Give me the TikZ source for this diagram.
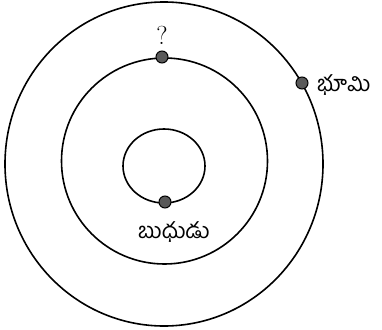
\documentclass[tikz,border=0pt]{standalone}
\usepackage{fontspec}
\newfontfamily\telugu[Script=Telugu]{Hind Guntur}
\begin{document}
\begin{tikzpicture}[x=1pt,y=-1pt,
  orbit/.style={draw=black,line width=1.6pt},
  planet/.style={circle,draw=black,line width=1pt,fill=black!65,minimum size=12pt,inner sep=0pt},
  lbl/.style={font=\telugu\fontsize{22}{26}\selectfont,inner sep=0pt}]
\useasboundingbox (0,0) rectangle (382,329);
\draw[orbit] (164,164) ellipse [x radius=159, y radius=162];
\draw[orbit] (164.5,161) circle [radius=103];
\draw[orbit] (164,166) ellipse [x radius=41, y radius=37];
\node[planet] (q) at (162,57) {};
\node[planet] (earth) at (302,83) {};
\node[planet] (merc) at (165,202) {};
\node[inner sep=0pt,font=\fontsize{26}{30}\selectfont,anchor=base] (qlabel) at (162,45) {?};
\node[lbl,anchor=west] (elabel) at (317,85) {భూమి};
\node[lbl] (mlabel) at (174,232) {బుధుడు};
\end{tikzpicture}
\end{document}
